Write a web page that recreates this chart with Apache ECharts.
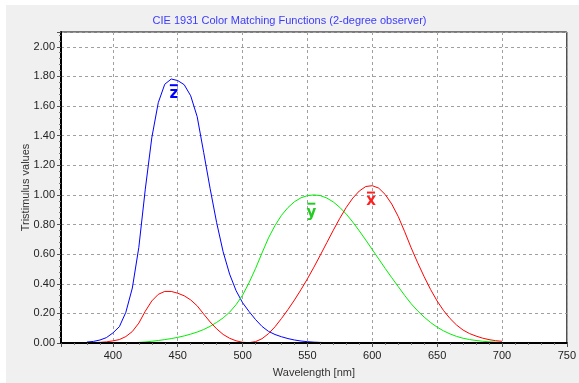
<!DOCTYPE html>
<html>
<head>
<meta charset="utf-8">
<script src="https://cdn.jsdelivr.net/npm/echarts@6/dist/echarts.min.js"></script>
<style>
html,body{margin:0;padding:0;background:#ffffff;}
#frame{position:absolute;left:6px;top:5px;width:573px;height:378px;background:#f0f0f0;}
#chart{position:absolute;left:0;top:0;width:579px;height:383px;}
</style>
</head>
<body>
<div id="frame"></div>
<div id="chart"></div>
<script>
// Wavelengths (nm)
const wavelengths = [380,385,390,395,400,405,410,415,420,425,430,435,440,445,450,455,460,465,470,475,480,485,490,495,500,505,510,515,520,525,530,535,540,545,550,555,560,565,570,575,580,585,590,595,600,605,610,615,620,625,630,635,640,645,650,655,660,665,670,675,680,685,690,695,700];
// x-bar (red)
const xBar = [0.0014,0.0022,0.0042,0.0077,0.0143,0.0232,0.0435,0.0776,0.1344,0.2148,0.2839,0.3285,0.3483,0.3481,0.3362,0.3187,0.2908,0.2511,0.1954,0.1421,0.0956,0.0580,0.0320,0.0147,0.0049,0.0024,0.0093,0.0291,0.0633,0.1096,0.1655,0.2257,0.2904,0.3597,0.4334,0.5121,0.5945,0.6784,0.7621,0.8425,0.9163,0.9786,1.0263,1.0567,1.0622,1.0456,1.0026,0.9384,0.8544,0.7514,0.6424,0.5419,0.4479,0.3608,0.2835,0.2187,0.1649,0.1212,0.0874,0.0636,0.0468,0.0329,0.0227,0.0158,0.0114];
// y-bar (green)
const yBar = [0.0000,0.0001,0.0001,0.0002,0.0004,0.0006,0.0012,0.0022,0.0040,0.0073,0.0116,0.0168,0.0230,0.0298,0.0380,0.0480,0.0600,0.0739,0.0910,0.1126,0.1390,0.1693,0.2080,0.2586,0.3230,0.4073,0.5030,0.6082,0.7100,0.7932,0.8620,0.9149,0.9540,0.9803,0.9950,1.0000,0.9950,0.9786,0.9520,0.9154,0.8700,0.8163,0.7570,0.6949,0.6310,0.5668,0.5030,0.4412,0.3810,0.3210,0.2650,0.2170,0.1750,0.1382,0.1070,0.0816,0.0610,0.0446,0.0320,0.0232,0.0170,0.0119,0.0082,0.0057,0.0041];
// z-bar (blue)
const zBar = [0.0065,0.0106,0.0201,0.0362,0.0679,0.1102,0.2074,0.3713,0.6456,1.0391,1.3856,1.6230,1.7471,1.7826,1.7721,1.7441,1.6692,1.5281,1.2876,1.0419,0.8130,0.6162,0.4652,0.3533,0.2720,0.2123,0.1582,0.1117,0.0783,0.0573,0.0422,0.0298,0.0203,0.0134,0.0088,0.0058,0.0039,0.0028,0.0021,0.0018,0.0017,0.0014,0.0011,0.0010,0.0008,0.0006,0.0003,0.0002,0.0002,0.0001,0.0001,0.0000,0.0000,0.0000,0.0000,0.0000,0.0000,0.0000,0.0000,0.0000,0.0000,0.0000,0.0000,0.0000,0.0000];
// Curve labels: [wavelength, value, letter]
const curveLabels = {
  z: [447, 1.68, 'z'],
  y: [553, 0.88, 'y'],
  x: [599, 0.955, 'x']
};
const titleText = 'CIE 1931 Color Matching Functions (2-degree observer)';
const xName = 'Wavelength [nm]';
const yName = 'Tristimulus values';

const pairs = arr => wavelengths.map((w, i) => [w, arr[i]]);
const lbl = (key, color) => {
  const c = [curveLabels[key][0], curveLabels[key][1]];
  return {
    symbol: 'circle', symbolSize: 1, silent: true,
    itemStyle: {color: 'rgba(0,0,0,0)'},
    data: [
      {coord: c, label: {show: true, position: 'inside', formatter: curveLabels[key][2],
        color: color, fontWeight: 'bold', fontFamily: 'DejaVu Sans', fontSize: 15}},
      {coord: c, label: {show: true, position: 'inside', formatter: '{b|}', offset: [0, -9],
        rich: {b: {width: 8, height: 2, backgroundColor: color}}}}
    ]
  };
};

const chart = echarts.init(document.getElementById('chart'), null, {renderer: 'canvas'});
const font = 'Liberation Sans';
chart.setOption({
  backgroundColor: 'transparent',
  animation: false,
  title: {text: titleText, left: 'center', top: 10,
    textStyle: {color: '#3b3bff', fontSize: 11, fontWeight: 'normal', fontFamily: font}},
  grid: {left: 61, right: 8, top: 32, bottom: 38, show: true, backgroundColor: '#ffffff', borderColor: '#000', borderWidth: 1},
  xAxis: [{
    type: 'value', min: 360, max: 750, splitNumber: 8, z: 5,
    name: xName, nameLocation: 'middle', nameGap: 24, nameMoveOverlap: false,
    nameTextStyle: {color: '#333', fontSize: 11, fontFamily: font},
    axisLine: {show: true, onZero: false, lineStyle: {color: '#000', width: 2}},
    axisTick: {show: true, length: 4, lineStyle: {color: '#555'}},
    minorTick: {show: true, splitNumber: 5, length: 2, lineStyle: {color: '#777'}},
    axisLabel: {color: '#222', fontSize: 11, fontFamily: font, margin: 7, showMinLabel: false},
    splitLine: {show: false}
  }, {
    type: 'value', min: 360, max: 750, splitNumber: 8, position: 'bottom', z: 0,
    axisLine: {show: false}, axisTick: {show: false}, axisLabel: {show: false},
    splitLine: {show: true, lineStyle: {color: '#a0a0a0', type: [3, 3], width: 1}}
  }],
  yAxis: {
    type: 'value', min: 0, max: 2.1, interval: 0.2,
    name: yName, nameLocation: 'middle', nameGap: 30, nameMoveOverlap: false,
    nameTextStyle: {color: '#333', fontSize: 11, fontFamily: font},
    axisLine: {show: true, onZero: false, lineStyle: {color: '#000', width: 2}},
    axisTick: {show: true, length: 4, lineStyle: {color: '#555'}},
    minorTick: {show: true, splitNumber: 5, length: 2, lineStyle: {color: '#777'}},
    axisLabel: {color: '#222', fontSize: 11, fontFamily: font, margin: 6, showMaxLabel: false,
      formatter: v => v.toFixed(2)},
    splitLine: {show: true, lineStyle: {color: '#a0a0a0', type: [3, 3], width: 1}}
  },
  series: [
    {type: 'line', name: 'z', data: pairs(zBar), showSymbol: false,
     lineStyle: {color: '#0000ff', width: 1}, itemStyle: {color: '#0000ff'}, markPoint: lbl('z', '#0000ff')},
    {type: 'line', name: 'y', data: pairs(yBar), showSymbol: false,
     lineStyle: {color: '#00ee00', width: 1}, itemStyle: {color: '#00ee00'}, markPoint: lbl('y', '#22cc22')},
    {type: 'line', name: 'x', data: pairs(xBar), showSymbol: false,
     lineStyle: {color: '#ff0000', width: 1}, itemStyle: {color: '#ff0000'}, markPoint: lbl('x', '#ff2020')}
  ]
});
</script>
</body>
</html>
